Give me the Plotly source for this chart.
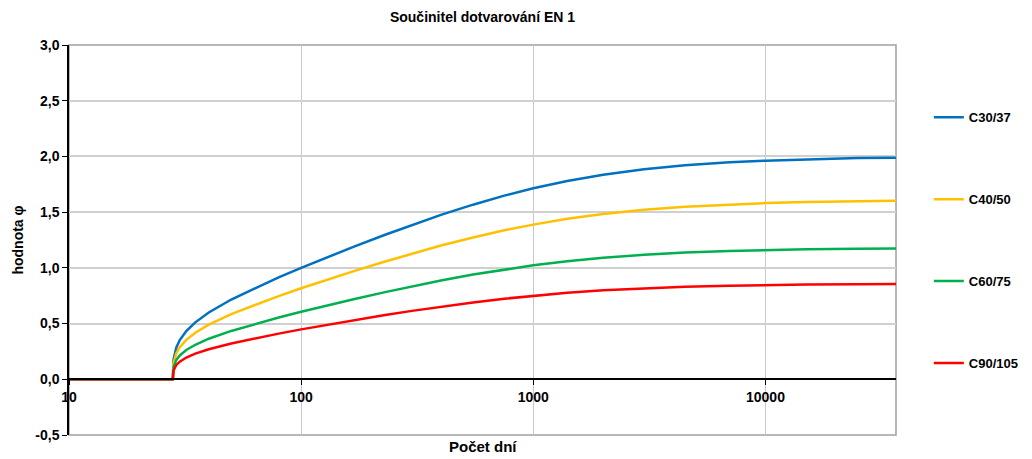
import plotly.graph_objects as go
import math

# Age of concrete in days (x) and creep coefficient values
days = [10, 20, 28, 28.2, 28.5, 29, 30, 32, 35, 40, 50, 65, 80, 100, 130, 170, 230, 300,
        400, 550, 750, 1000, 1400, 2000, 3000, 4500, 7000, 10000, 15000, 25000, 36500]

c30_37 = [0, 0, 0, 0.176, 0.232, 0.286, 0.352, 0.433, 0.511, 0.599, 0.716, 0.831, 0.915,
          1.000, 1.097, 1.193, 1.297, 1.385, 1.475, 1.567, 1.648, 1.714, 1.779, 1.835,
          1.884, 1.920, 1.947, 1.962, 1.974, 1.985, 1.989]
c40_50 = [0, 0, 0, 0.144, 0.190, 0.234, 0.288, 0.354, 0.418, 0.490, 0.585, 0.679, 0.747,
          0.817, 0.895, 0.973, 1.057, 1.127, 1.200, 1.273, 1.337, 1.388, 1.440, 1.483,
          1.521, 1.549, 1.569, 1.581, 1.590, 1.598, 1.602]
c60_75 = [0, 0, 0, 0.107, 0.141, 0.174, 0.214, 0.263, 0.310, 0.364, 0.434, 0.504, 0.554,
          0.606, 0.664, 0.721, 0.782, 0.834, 0.887, 0.940, 0.986, 1.023, 1.059, 1.090,
          1.117, 1.137, 1.151, 1.160, 1.166, 1.172, 1.174]
c90_105 = [0, 0, 0, 0.079, 0.104, 0.129, 0.158, 0.195, 0.230, 0.269, 0.321, 0.373, 0.410,
           0.448, 0.490, 0.532, 0.577, 0.614, 0.652, 0.690, 0.723, 0.750, 0.776, 0.798,
           0.816, 0.830, 0.840, 0.846, 0.851, 0.854, 0.856]

series_names = ["C30/37", "C40/50", "C60/75", "C90/105"]
series_values = [c30_37, c40_50, c60_75, c90_105]
series_colors = ["#0070C0", "#FFC000", "#00B050", "#FF0000"]

x_tick_vals = [10, 100, 1000, 10000]
x_tick_text = ["10", "100", "1000", "10000"]
y_tick_vals = [-0.5, 0, 0.5, 1.0, 1.5, 2.0, 2.5, 3.0]
y_tick_text = ["-0,5", "0,0", "0,5", "1,0", "1,5", "2,0", "2,5", "3,0"]

title_text = "Součinitel dotvarování EN 1"
x_title = "Počet dní"
y_title = "hodnota φ"

FONT = "Liberation Sans, Arial, sans-serif"

fig = go.Figure()
for name, vals, col in zip(series_names, series_values, series_colors):
    fig.add_trace(go.Scatter(
        x=days, y=vals, mode="lines", name=name, legendgroup=name,
        line=dict(color=col, width=2.5),
    ))

y_min, y_max = -0.5, 3.0
zero_pos = (0 - y_min) / (y_max - y_min)

fig.update_layout(
    width=1032, height=459,
    margin=dict(l=69, r=136, t=45, b=24, autoexpand=False),
    paper_bgcolor="white", plot_bgcolor="white",
    font=dict(family=FONT, size=13, color="#000000"),
    title=dict(text=title_text, x=(69 + 896) / 2 / 1032, xanchor="center",
               y=1 - 17 / 459, yanchor="middle", yref="container",
               font=dict(family=FONT, size=14, weight="bold")),
    xaxis=dict(
        type="log", range=[1, math.log10(36500)],
        tickvals=x_tick_vals, ticktext=x_tick_text,
        tickfont=dict(family=FONT, size=14, weight="bold"),
        showgrid=True, gridcolor="#C8C8C8", gridwidth=1,
        showline=True, linecolor="#000000", linewidth=1.5,
        ticks="outside", ticklen=5, tickcolor="#000000",
        anchor="free", position=zero_pos,
        zeroline=False,
    ),
    yaxis=dict(
        range=[y_min, y_max], domain=[0, 1],
        tickvals=y_tick_vals, ticktext=y_tick_text,
        tickfont=dict(family=FONT, size=14, weight="bold"),
        showgrid=True, gridcolor="#D0D0D0", gridwidth=1.5,
        showline=True, linecolor="#000000", linewidth=1.5,
        ticks="outside", ticklen=5, tickcolor="#000000",
        zeroline=False,
        title=dict(text=y_title, standoff=8,
                   font=dict(family=FONT, size=14, weight="bold")),
    ),
    legend=dict(
        x=1.0397, xanchor="left", y=0.853, yanchor="top",
        tracegroupgap=62, font=dict(family=FONT, size=13, weight="bold"),
        bgcolor="rgba(0,0,0,0)",
    ),
    shapes=[dict(type="rect", xref="paper", yref="paper", x0=0, x1=1, y0=0, y1=1,
                 line=dict(color="#A0A0A0", width=1.5), layer="below")],
    annotations=[dict(text=x_title, xref="paper", yref="paper", x=0.5, y=-(447 - 435) / 390,
                      xanchor="center", yanchor="middle", showarrow=False,
                      font=dict(family=FONT, size=15, weight="bold"))],
)

fig.write_html("out.html")
